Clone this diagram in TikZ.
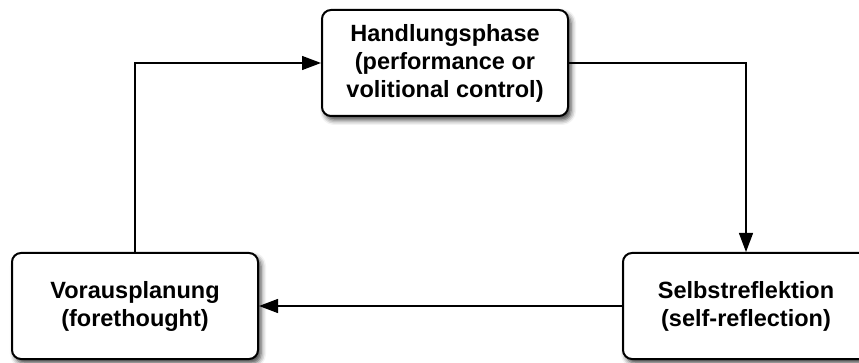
\documentclass[tikz,border=0pt]{standalone}
\usepackage{fontspec}
\setmainfont{Liberation Sans}
\usetikzlibrary{arrows.meta,shadows.blur}
\begin{document}
\begin{tikzpicture}[x=1pt,y=-1pt,
  phase/.style={draw=black, line width=2pt, rounded corners=9pt, fill=white,
    minimum width=246pt, minimum height=106pt, align=center,
    font=\fontsize{23.5}{28}\selectfont\bfseries,
    blur shadow={shadow xshift=3pt, shadow yshift=-4pt, shadow blur radius=5pt, shadow opacity=75}},
  flow/.style={line width=1.3pt, -{Triangle[length=19pt,width=14pt]}}]
  \useasboundingbox (0,0) rectangle (859,363);
  \clip (0,0) rectangle (859,363);
  \node[phase] (act) at (445,63) {Handlungsphase\\(performance or\\volitional control)};
  \node[phase] (plan) at (135,306) {Vorausplanung\\(forethought)};
  \node[phase] (refl) at (746,306) {Selbstreflektion\\(self-reflection)};
  \draw[flow] (plan.north) |- (act.west);
  \draw[flow] (act.east) -| (refl.north);
  \draw[flow] (refl.west) -- (plan.east);
\end{tikzpicture}
\end{document}
